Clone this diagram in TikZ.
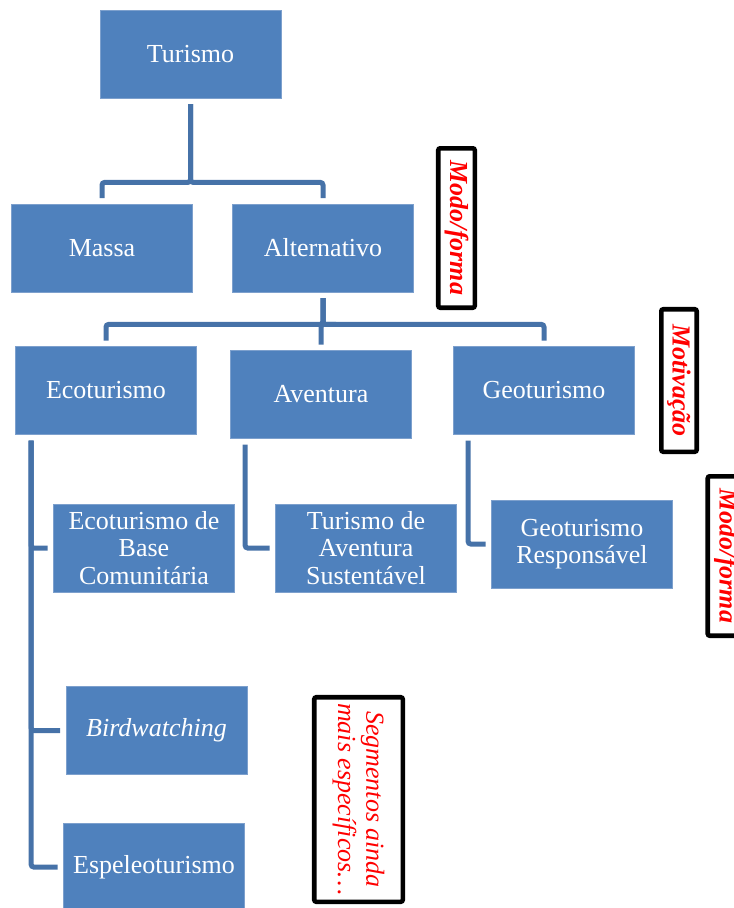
\documentclass[tikz,border=0pt]{standalone}
\usepackage{fontspec}
\setmainfont{Liberation Serif}
\definecolor{boxfill}{RGB}{79,129,189}
\definecolor{boxline}{RGB}{125,160,205}
\definecolor{connc}{RGB}{70,114,168}
\definecolor{notered}{RGB}{255,0,0}
\begin{document}
\begin{tikzpicture}[x=0.75pt,y=-0.75pt,
  tbox/.style={rectangle, fill=boxfill, draw=boxline, line width=0.6pt,
    minimum width=135.75pt, minimum height=66pt, inner sep=0pt, text=white,
    align=center, font=\fontsize{19.5pt}{20.6pt}\selectfont},
  conn/.style={draw=connc, line width=3.75pt, rounded corners=2pt,
    shorten <=4.2pt, shorten >=4.2pt},
  note/.style={rectangle, draw=black, line width=3.4pt, fill=white,
    rounded corners=1.5pt, text=notered, inner sep=0pt, rotate=-90,
    align=center, font=\fontsize{19.5pt}{20.8pt}\selectfont\bfseries\itshape}]
\useasboundingbox (0,0) rectangle (734,908);
% level 1
\node[tbox] (turismo) at (190.5,54) {Turismo};
% level 2
\node[tbox] (massa) at (102,248) {Massa};
\node[tbox] (alt) at (323,248) {Alternativo};
% level 3
\node[tbox] (eco) at (106,390.5) {Ecoturismo};
\node[tbox] (aventura) at (321,394.5) {Aventura};
\node[tbox] (geo) at (544,390.5) {Geoturismo};
% level 4
\node[tbox] (ecobase) at (144,548) {Ecoturismo de\\Base\\Comunitária};
\node[tbox] (tavs) at (366,548) {Turismo de\\Aventura\\Sustentável};
\node[tbox] (georesp) at (582,544) {Geoturismo\\Responsável};
\node[tbox] (bird) at (156.5,730.5) {\itshape Birdwatching};
\node[tbox] (espeleo) at (154,867) {Espeleoturismo};
% connectors
\draw[conn] (turismo.south) -- ++(0,84) -| (massa.north);
\draw[conn] (turismo.south) -- ++(0,84) -| (alt.north);
\draw[conn] (alt.south) -- ++(0,32) -| (eco.north);
\draw[conn] (alt.south) -- ++(0,32) -| (aventura.north);
\draw[conn] (alt.south) -- ++(0,32) -| (geo.north);
\draw[conn] ([xshift=12pt]eco.south west) |- (ecobase.west);
\draw[conn] ([xshift=12pt]eco.south west) |- (bird.west);
\draw[conn] ([xshift=12pt]eco.south west) |- (espeleo.west);
\draw[conn] ([xshift=11.25pt]aventura.south west) |- (tavs.west);
\draw[conn] ([xshift=11.25pt]geo.south west) |- (georesp.west);
% annotations
\node[note, minimum width=119.6pt, minimum height=27.4pt] (modo1) at (456.5,228) {Modo/forma};
\node[note, minimum width=106.9pt, minimum height=26.6pt] (motiv) at (679,380.5) {Motivação};
\node[note, minimum width=119.6pt, minimum height=27.4pt] (modo2) at (726,556) {Modo/forma};
\node[note, minimum width=153.4pt, minimum height=66.4pt, font=\fontsize{19.5pt}{21pt}\selectfont\itshape] (segm) at (358.5,799.5) {Segmentos ainda\\mais específicos\ldots};
\end{tikzpicture}
\end{document}
